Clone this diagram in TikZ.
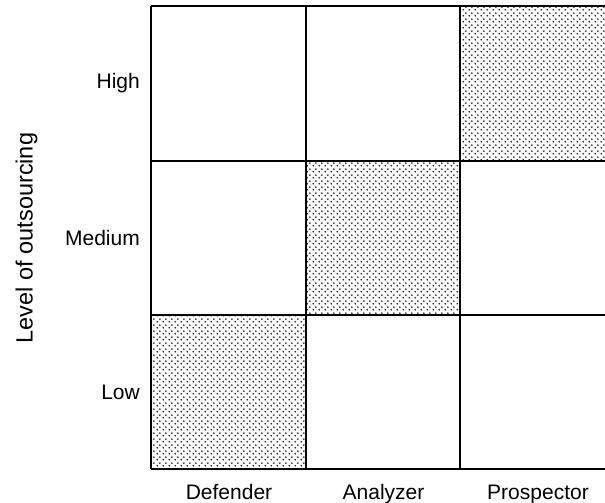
\documentclass[tikz,border=0pt]{standalone}
\usepackage{fontspec}
\setmainfont{Liberation Sans}
\usetikzlibrary{patterns}

% staggered dot screen used for the highlighted cells
\pgfdeclarepatternformonly{dotscreen}{\pgfpointorigin}{\pgfpoint{6pt}{6pt}}{\pgfpoint{6pt}{6pt}}{%
  \pgfpathcircle{\pgfpoint{1.5pt}{1.5pt}}{1.05pt}%
  \pgfpathcircle{\pgfpoint{4.5pt}{4.5pt}}{1.05pt}%
  \pgfusepath{fill}}

\begin{document}
\begin{tikzpicture}[x=1pt,y=-1pt,
  gridline/.style={line width=2pt,draw=black},
  shaded/.style={pattern=dotscreen,pattern color=black!90},
  lbl/.style={font=\fontsize{21}{25}\selectfont,inner sep=0pt},
  axislbl/.style={font=\fontsize{23.5}{28}\selectfont,inner sep=0pt}]
\useasboundingbox (0,0) rectangle (605,503);

% shaded diagonal cells
\fill[shaded] (460,6) rectangle (614,160.5);
\fill[shaded] (305.5,160.5) rectangle (460,315);
\fill[shaded] (151,315) rectangle (305.5,469);

% grid lines
\draw[gridline] (151,6) -- (614,6);
\draw[gridline] (151,160.5) -- (614,160.5);
\draw[gridline] (151,315) -- (614,315);
\draw[gridline] (151,469) -- (614,469);
\draw[gridline] (151,6) -- (151,469);
\draw[gridline] (305.5,6) -- (305.5,469);
\draw[gridline] (460,6) -- (460,469);

% row labels
\node[lbl,anchor=east] (high) at (140,83) {High};
\node[lbl,anchor=east] (medium) at (140,237.5) {Medium};
\node[lbl,anchor=east] (low) at (140,392) {Low};

% column labels
\node[lbl,anchor=base] (defender) at (229,499) {Defender};
\node[lbl,anchor=base] (analyzer) at (383.5,499) {Analyzer};
\node[lbl,anchor=base] (prospector) at (538,499) {Prospector};

% axis title
\node[axislbl,rotate=90,anchor=base] (axis) at (32.5,238) {Level of outsourcing};
\end{tikzpicture}
\end{document}
